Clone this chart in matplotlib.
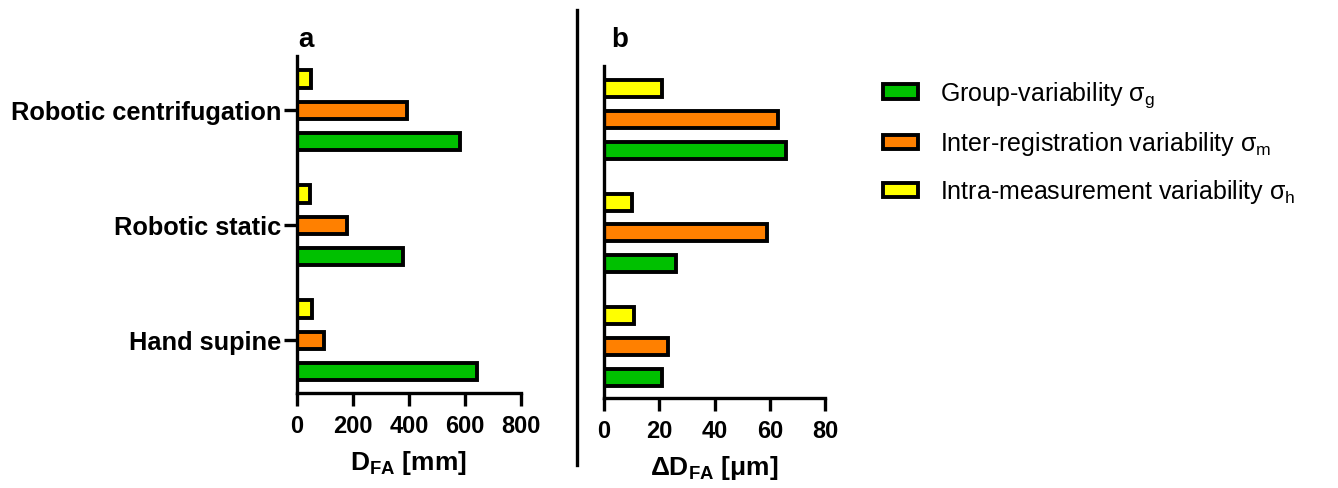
import matplotlib
matplotlib.use("Agg")
import matplotlib.pyplot as plt
import numpy as np
from matplotlib.lines import Line2D

plt.rcParams["font.family"] = ["Liberation Sans", "DejaVu Sans"]
plt.rcParams["mathtext.fontset"] = "custom"
plt.rcParams["mathtext.rm"] = "Liberation Sans"
plt.rcParams["mathtext.it"] = "Liberation Sans:italic"
plt.rcParams["mathtext.bf"] = "Liberation Sans:bold"

# data (bottom group first)
CATEGORIES = ["Hand supine", "Robotic static", "Robotic centrifugation"]
SERIES = ["Group-variability", "Inter-registration variability", "Intra-measurement variability"]
SERIES_SUB = ["g", "m", "h"]
COLORS = ["#00c000", "#ff8000", "#ffff00"]

D_FA_GROUP = [645, 378, 582]
D_FA_INTER = [96, 178, 395]
D_FA_INTRA = [53, 45, 50]

DD_FA_GROUP = [21, 26, 66]
DD_FA_INTER = [23, 59, 63]
DD_FA_INTRA = [11, 10, 21]

GROUP_STEP = 3.67
BAR_H = 0.55
W, H = 1338, 488


def fig_rect(x0, y_top, x1, y_bot):
    return [x0 / W, 1 - y_bot / H, (x1 - x0) / W, (y_bot - y_top) / H]


def draw_panel(ax, group, inter, intra, xmax, xticks):
    centers = np.arange(len(CATEGORIES)) * GROUP_STEP
    handles = []
    for off, vals, color, name, sub in zip([-1, 0, 1], [group, inter, intra], COLORS, SERIES, SERIES_SUB):
        h = ax.barh(centers + off, vals, height=BAR_H, color=color, edgecolor="black",
                    linewidth=2.8, label=f"{name} σ$_{{\\rm {sub}}}$", zorder=2)
        handles.append(h)
    ax.set_xlim(0, xmax)
    ax.set_ylim(-1.67, 9.07)
    ax.set_xticks(xticks)
    ax.set_xticklabels([str(t) for t in xticks], fontweight="bold", fontsize=17)
    for side in ["top", "right"]:
        ax.spines[side].set_visible(False)
    for side in ["left", "bottom"]:
        ax.spines[side].set_linewidth(2.4)
    ax.tick_params(axis="x", length=9, width=2.4, pad=7)
    return centers, handles


fig = plt.figure(figsize=(W / 100, H / 100), dpi=100)

ax_a = fig.add_axes(fig_rect(297, 56, 520.7, 392.7))
centers, handles = draw_panel(ax_a, D_FA_GROUP, D_FA_INTER, D_FA_INTRA, 800, [0, 200, 400, 600, 800])
ax_a.set_yticks(centers)
ax_a.set_yticklabels(CATEGORIES, fontweight="bold", fontsize=18.3)
ax_a.tick_params(axis="y", length=9.5, width=2.4, pad=2)
ax_a.set_xlabel(r"D$_{\mathbf{FA}}$ [mm]", fontweight="bold", fontsize=19, labelpad=8)

ax_b = fig.add_axes(fig_rect(604, 66, 825, 398))
draw_panel(ax_b, DD_FA_GROUP, DD_FA_INTER, DD_FA_INTRA, 80, [0, 20, 40, 60, 80])
ax_b.set_yticks([])
ax_b.set_xlabel(r"ΔD$_{\mathbf{FA}}$ [μm]", fontweight="bold", fontsize=19, labelpad=8)

fig.text(306 / W, 1 - 40 / H, "a", fontweight="bold", fontsize=20, ha="center", va="center")
fig.text(620 / W, 1 - 40 / H, "b", fontweight="bold", fontsize=20, ha="center", va="center")

fig.add_artist(Line2D([577 / W, 577 / W], [1 - 10 / H, 1 - 465 / H], transform=fig.transFigure,
                      color="black", linewidth=2.4))

fig.legend(handles=handles, loc="upper left", bbox_to_anchor=(883 / W, 1 - 80 / H), frameon=False,
           fontsize=18, handlelength=1.4, handleheight=0.52, handletextpad=0.88, labelspacing=0.8,
           borderaxespad=0, borderpad=0)

fig.savefig("out.png", dpi=100)
